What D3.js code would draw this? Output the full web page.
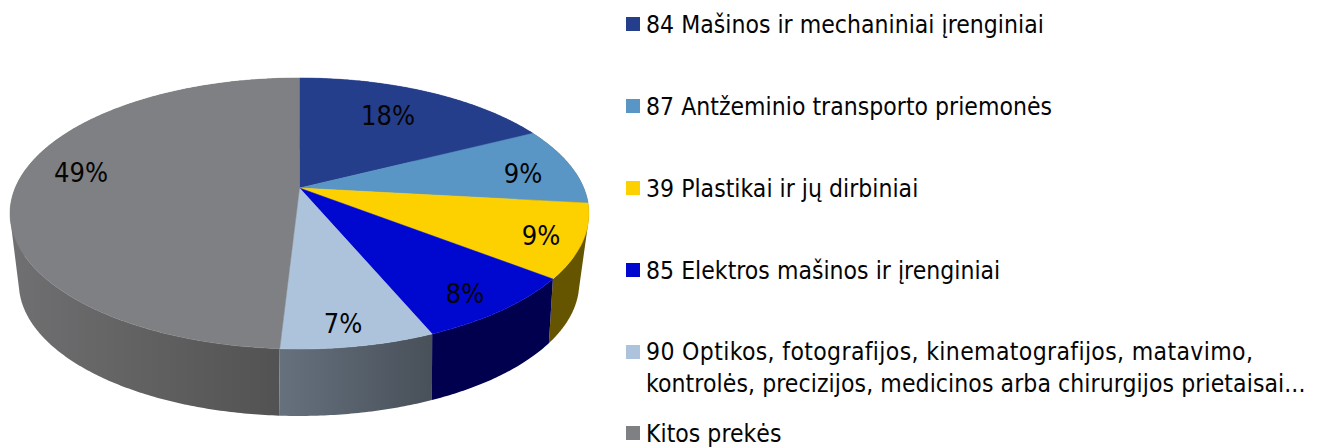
<!DOCTYPE html>
<html><head><meta charset="utf-8">
<script src="https://cdn.jsdelivr.net/npm/d3@7"></script>
<style>html,body{margin:0;padding:0;background:#fff}svg{display:block}
text{font-family:"DejaVu Sans Condensed","DejaVu Sans",sans-serif;fill:#050505}</style></head>
<body><svg id="c" width="1320" height="448"></svg>
<script>
const categories=["84 Mašinos ir mechaniniai įrenginiai","87 Antžeminio transporto priemonės","39 Plastikai ir jų dirbiniai","85 Elektros mašinos ir įrenginiai","90 Optikos, fotografijos, kinematografijos, matavimo,|kontrolės, precizijos, medicinos arba chirurgijos prietaisai...","Kitos prekės"];
const values=[17.5,9.3,8.75,8.15,7.2,49.1];
const topColors=["#253e8b","#5a96c5","#fdd000","#0008cf","#adc3dc","#7f8083"];
const wallRight=["#253e8b","#665500","#665500","#00004f","#485059","#505050"];
const wallLeft=["#253e8b","#665500","#665500","#00004f","#66717e","#707072"];
const svg=d3.select("#c");
const pie=d3.pie().value(d=>d).sort(null);
const arcs=pie(values);
// projection of the circular pie onto the tilted plane
const proj=(p)=>(a)=>{const u=Math.sin(a),v=-Math.cos(a),den=1-p.k*v;return [p.cx+p.X*u/den,p.cy+p.Y*v/den];};
const topP=proj({cx:299.5,cy:188,X:284.3,Y:130.7,k:0.188});
const botP=proj({cx:299,cy:253,X:273,Y:126.2,k:0.2256});
const rim=(fn,a0,a1)=>{const n=Math.max(2,Math.ceil((a1-a0)/0.01));return d3.range(n+1).map(i=>fn(a0+(a1-a0)*i/n));};
const line=d3.line();
const defs=svg.append("defs");
arcs.forEach((d,i)=>{
  const a=rim(topP,d.startAngle,d.endAngle), b=rim(botP,d.startAngle,d.endAngle);
  const xs=a.concat(b).map(p=>p[0]);
  const g=defs.append("linearGradient").attr("id","w"+i).attr("gradientUnits","userSpaceOnUse")
    .attr("x1",d3.max(xs)).attr("x2",d3.min(xs)).attr("y1",0).attr("y2",0);
  g.append("stop").attr("offset",0).attr("stop-color",wallRight[i]);
  g.append("stop").attr("offset",1).attr("stop-color",wallLeft[i]);
});
// walls are ruled strips between the two rims, all wound the same way so they union
const wallPath=d=>{
  const a=rim(topP,d.startAngle,d.endAngle), b=rim(botP,d.startAngle,d.endAngle);
  return d3.range(a.length-1).map(j=>{
    const q=[a[j],a[j+1],b[j+1],b[j]];
    if(d3.polygonArea(q)<0) q.reverse();
    return line(q)+"Z";
  }).join("");
};
const order=[0,1,5,2,3,4];
svg.append("g").selectAll("path").data(order).join("path")
  .attr("d",i=>wallPath(arcs[i]))
  .attr("fill",i=>"url(#w"+i+")");
// top faces
svg.append("g").selectAll("path").data(arcs).join("path")
  .attr("d",d=>line([[299.5,188]].concat(rim(topP,d.startAngle,d.endAngle)))+"Z")
  .attr("fill",(d,i)=>topColors[i]).attr("stroke",(d,i)=>topColors[i]).attr("stroke-width",0.5);
// percentage labels
const labelPos=[[388,115],[523,173],[541,235],[465,293],[343,323],[81,172]];
svg.append("g").selectAll("text").data(arcs).join("text")
  .attr("x",(d,i)=>labelPos[i][0]).attr("y",(d,i)=>labelPos[i][1]).attr("dy","0.36em")
  .attr("text-anchor","middle").style("font-size","27px")
  .text(d=>Math.round(d.value)+"%");
// legend
const legendY=[24,106,188,270,352,433];
const lg=svg.append("g").selectAll("g").data(categories).join("g")
  .attr("transform",(d,i)=>`translate(626,${legendY[i]})`);
lg.append("rect").attr("y",-7).attr("width",14).attr("height",14).attr("fill",(d,i)=>topColors[i]);
lg.each(function(d){
  const parts=d.split("|"),g=d3.select(this);
  parts.forEach((t,j)=>g.append("text").attr("x",20).attr("y",(parts.length>1?8:9)+j*32).style("font-size","24.5px")
    .style("letter-spacing",parts.length>1?(j===0?"0.36px":"0.09px"):"0.03px").text(t));
});
</script></body></html>
